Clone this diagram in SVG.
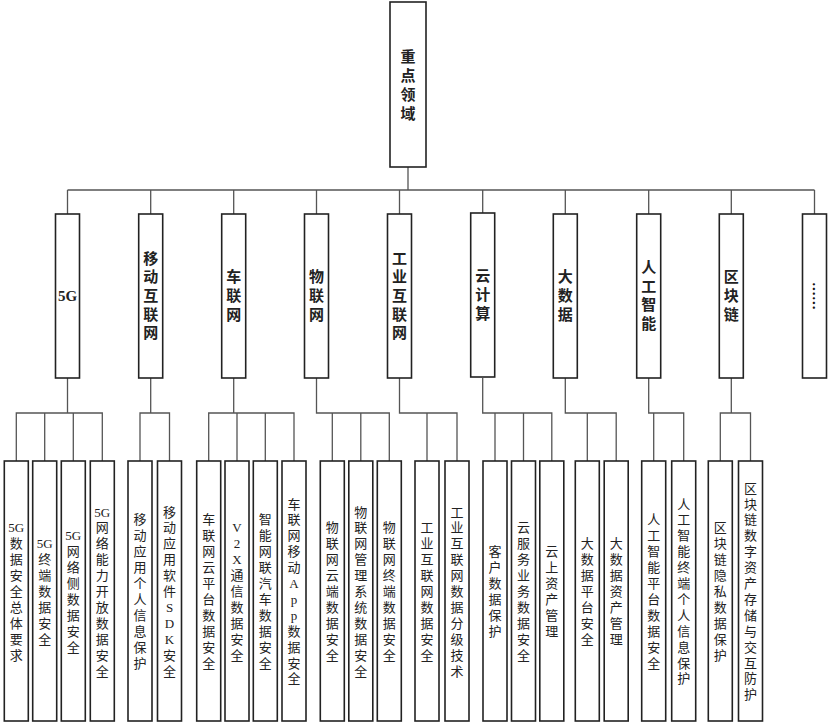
<svg xmlns="http://www.w3.org/2000/svg" width="830" height="726" viewBox="0 0 830 726">
<style>
.box{fill:#fff;stroke:#222;stroke-width:1.6}
.ln{fill:none;stroke:#555;stroke-width:1.3}
text{font-family:"Liberation Serif","Noto Sans CJK SC",serif;text-anchor:middle;dominant-baseline:central;fill:#222}
.t1{font-size:15px;font-weight:bold}
.t2{font-size:15px;font-weight:bold}
.t3{font-size:13px}
.dots{font-family:"Noto Sans CJK SC",sans-serif;font-size:14px;font-weight:bold;fill:#111}
</style>
<rect width="830" height="726" fill="#fff"/>
<g id="connectors">
<path class="ln" d="M408,167V190M67.5,190H814.5M67.5,190V214M150.7,190V214M233.7,190V214M316.5,190V214M399.5,190V214M482.7,190V214M565.3,190V214M648.7,190V214M731.3,190V214M814.5,190V214"/>
<path class="ln" d="M67.5,378V413M16.3,461V413H102.3V461M44.7,413V461M73.3,413V461"/>
<path class="ln" d="M150.7,378V413M140,461V413H169.5V461"/>
<path class="ln" d="M233.7,378V413M208.7,461V413H294V461M237,413V461M265.3,413V461"/>
<path class="ln" d="M316.5,378V413H389.3V461M332.3,413V461M360.8,413V461"/>
<path class="ln" d="M399.5,378V413H457V461M427,413V461"/>
<path class="ln" d="M482.7,378V413H551.8V461M495,413V461M523.5,413V461"/>
<path class="ln" d="M565.3,378V413H616.2V461M587.3,413V461"/>
<path class="ln" d="M648.7,378V413H683.7V461M653.7,413V461"/>
<path class="ln" d="M731.3,378V413M720.3,461V413H750.5V461"/>
</g>
<g id="root"><rect class="box" x="390" y="2" width="36" height="165"/><text class="t1"><tspan x="408" y="56.5">重</tspan><tspan x="408" dy="19">点</tspan><tspan x="408" dy="19">领</tspan><tspan x="408" dy="19">域</tspan></text></g>
<g id="n5g"><rect class="box" x="55.5" y="214" width="24" height="164"/><text class="t2"><tspan x="67.5" y="296">5G</tspan></text></g>
<g id="nmobile"><rect class="box" x="138.7" y="214" width="24" height="164"/><text class="t2"><tspan x="150.7" y="258.6">移</tspan><tspan x="150.7" dy="18.7">动</tspan><tspan x="150.7" dy="18.7">互</tspan><tspan x="150.7" dy="18.7">联</tspan><tspan x="150.7" dy="18.7">网</tspan></text></g>
<g id="nv2x"><rect class="box" x="221.7" y="214" width="24" height="164"/><text class="t2"><tspan x="233.7" y="277.3">车</tspan><tspan x="233.7" dy="18.7">联</tspan><tspan x="233.7" dy="18.7">网</tspan></text></g>
<g id="niot"><rect class="box" x="304.5" y="214" width="24" height="164"/><text class="t2"><tspan x="316.5" y="277.3">物</tspan><tspan x="316.5" dy="18.7">联</tspan><tspan x="316.5" dy="18.7">网</tspan></text></g>
<g id="niiot"><rect class="box" x="387.5" y="214" width="24" height="164"/><text class="t2"><tspan x="399.5" y="258.6">工</tspan><tspan x="399.5" dy="18.7">业</tspan><tspan x="399.5" dy="18.7">互</tspan><tspan x="399.5" dy="18.7">联</tspan><tspan x="399.5" dy="18.7">网</tspan></text></g>
<g id="ncloud"><rect class="box" x="470.7" y="213" width="24" height="164"/><text class="t2"><tspan x="482.7" y="276.3">云</tspan><tspan x="482.7" dy="18.7">计</tspan><tspan x="482.7" dy="18.7">算</tspan></text></g>
<g id="nbigdata"><rect class="box" x="553.3" y="214" width="24" height="164"/><text class="t2"><tspan x="565.3" y="277.3">大</tspan><tspan x="565.3" dy="18.7">数</tspan><tspan x="565.3" dy="18.7">据</tspan></text></g>
<g id="nai"><rect class="box" x="636.7" y="214" width="24" height="164"/><text class="t2"><tspan x="648.7" y="268">人</tspan><tspan x="648.7" dy="18.7">工</tspan><tspan x="648.7" dy="18.7">智</tspan><tspan x="648.7" dy="18.7">能</tspan></text></g>
<g id="nchain"><rect class="box" x="719.3" y="214" width="24" height="164"/><text class="t2"><tspan x="731.3" y="277.3">区</tspan><tspan x="731.3" dy="18.7">块</tspan><tspan x="731.3" dy="18.7">链</tspan></text></g>
<g id="nmore"><rect class="box" x="802.5" y="214" width="24" height="164"/><text class="dots" transform="rotate(90 814.5 296)" x="814.5" y="296">……</text></g>

<g id="c1"><rect class="box" x="4.3" y="461" width="24" height="260"/><text class="t3"><tspan x="16.3" y="527.4">5G</tspan><tspan x="16.3" dy="15.9">数</tspan><tspan x="16.3" dy="15.9">据</tspan><tspan x="16.3" dy="15.9">安</tspan><tspan x="16.3" dy="15.9">全</tspan><tspan x="16.3" dy="15.9">总</tspan><tspan x="16.3" dy="15.9">体</tspan><tspan x="16.3" dy="15.9">要</tspan><tspan x="16.3" dy="15.9">求</tspan></text></g>
<g id="c2"><rect class="box" x="32.7" y="461" width="24" height="260"/><text class="t3"><tspan x="44.7" y="543.3">5G</tspan><tspan x="44.7" dy="15.9">终</tspan><tspan x="44.7" dy="15.9">端</tspan><tspan x="44.7" dy="15.9">数</tspan><tspan x="44.7" dy="15.9">据</tspan><tspan x="44.7" dy="15.9">安</tspan><tspan x="44.7" dy="15.9">全</tspan></text></g>
<g id="c3"><rect class="box" x="61.3" y="461" width="24" height="260"/><text class="t3"><tspan x="73.3" y="535.35">5G</tspan><tspan x="73.3" dy="15.9">网</tspan><tspan x="73.3" dy="15.9">络</tspan><tspan x="73.3" dy="15.9">侧</tspan><tspan x="73.3" dy="15.9">数</tspan><tspan x="73.3" dy="15.9">据</tspan><tspan x="73.3" dy="15.9">安</tspan><tspan x="73.3" dy="15.9">全</tspan></text></g>
<g id="c4"><rect class="box" x="90.3" y="461" width="24" height="260"/><text class="t3"><tspan x="102.3" y="511.5">5G</tspan><tspan x="102.3" dy="15.9">网</tspan><tspan x="102.3" dy="15.9">络</tspan><tspan x="102.3" dy="15.9">能</tspan><tspan x="102.3" dy="15.9">力</tspan><tspan x="102.3" dy="15.9">开</tspan><tspan x="102.3" dy="15.9">放</tspan><tspan x="102.3" dy="15.9">数</tspan><tspan x="102.3" dy="15.9">据</tspan><tspan x="102.3" dy="15.9">安</tspan><tspan x="102.3" dy="15.9">全</tspan></text></g>
<g id="c5"><rect class="box" x="128" y="461" width="24" height="260"/><text class="t3"><tspan x="140" y="519.45">移</tspan><tspan x="140" dy="15.9">动</tspan><tspan x="140" dy="15.9">应</tspan><tspan x="140" dy="15.9">用</tspan><tspan x="140" dy="15.9">个</tspan><tspan x="140" dy="15.9">人</tspan><tspan x="140" dy="15.9">信</tspan><tspan x="140" dy="15.9">息</tspan><tspan x="140" dy="15.9">保</tspan><tspan x="140" dy="15.9">护</tspan></text></g>
<g id="c6"><rect class="box" x="157.5" y="461" width="24" height="260"/><text class="t3"><tspan x="169.5" y="511.5">移</tspan><tspan x="169.5" dy="15.9">动</tspan><tspan x="169.5" dy="15.9">应</tspan><tspan x="169.5" dy="15.9">用</tspan><tspan x="169.5" dy="15.9">软</tspan><tspan x="169.5" dy="15.9">件</tspan><tspan x="169.5" dy="15.9">S</tspan><tspan x="169.5" dy="15.9">D</tspan><tspan x="169.5" dy="15.9">K</tspan><tspan x="169.5" dy="15.9">安</tspan><tspan x="169.5" dy="15.9">全</tspan></text></g>
<g id="c7"><rect class="box" x="196.7" y="461" width="24" height="260"/><text class="t3"><tspan x="208.7" y="519.45">车</tspan><tspan x="208.7" dy="15.9">联</tspan><tspan x="208.7" dy="15.9">网</tspan><tspan x="208.7" dy="15.9">云</tspan><tspan x="208.7" dy="15.9">平</tspan><tspan x="208.7" dy="15.9">台</tspan><tspan x="208.7" dy="15.9">数</tspan><tspan x="208.7" dy="15.9">据</tspan><tspan x="208.7" dy="15.9">安</tspan><tspan x="208.7" dy="15.9">全</tspan></text></g>
<g id="c8"><rect class="box" x="225" y="461" width="24" height="260"/><text class="t3"><tspan x="237" y="527.4">V</tspan><tspan x="237" dy="15.9">2</tspan><tspan x="237" dy="15.9">X</tspan><tspan x="237" dy="15.9">通</tspan><tspan x="237" dy="15.9">信</tspan><tspan x="237" dy="15.9">数</tspan><tspan x="237" dy="15.9">据</tspan><tspan x="237" dy="15.9">安</tspan><tspan x="237" dy="15.9">全</tspan></text></g>
<g id="c9"><rect class="box" x="253.3" y="461" width="24" height="260"/><text class="t3"><tspan x="265.3" y="519.45">智</tspan><tspan x="265.3" dy="15.9">能</tspan><tspan x="265.3" dy="15.9">网</tspan><tspan x="265.3" dy="15.9">联</tspan><tspan x="265.3" dy="15.9">汽</tspan><tspan x="265.3" dy="15.9">车</tspan><tspan x="265.3" dy="15.9">数</tspan><tspan x="265.3" dy="15.9">据</tspan><tspan x="265.3" dy="15.9">安</tspan><tspan x="265.3" dy="15.9">全</tspan></text></g>
<g id="c10"><rect class="box" x="282" y="461" width="24" height="260"/><text class="t3"><tspan x="294" y="503.55">车</tspan><tspan x="294" dy="15.9">联</tspan><tspan x="294" dy="15.9">网</tspan><tspan x="294" dy="15.9">移</tspan><tspan x="294" dy="15.9">动</tspan><tspan x="294" dy="15.9">A</tspan><tspan x="294" dy="15.9">p</tspan><tspan x="294" dy="15.9">p</tspan><tspan x="294" dy="15.9">数</tspan><tspan x="294" dy="15.9">据</tspan><tspan x="294" dy="15.9">安</tspan><tspan x="294" dy="15.9">全</tspan></text></g>
<g id="c11"><rect class="box" x="320.3" y="461" width="24" height="260"/><text class="t3"><tspan x="332.3" y="527.4">物</tspan><tspan x="332.3" dy="15.9">联</tspan><tspan x="332.3" dy="15.9">网</tspan><tspan x="332.3" dy="15.9">云</tspan><tspan x="332.3" dy="15.9">端</tspan><tspan x="332.3" dy="15.9">数</tspan><tspan x="332.3" dy="15.9">据</tspan><tspan x="332.3" dy="15.9">安</tspan><tspan x="332.3" dy="15.9">全</tspan></text></g>
<g id="c12"><rect class="box" x="348.8" y="461" width="24" height="260"/><text class="t3"><tspan x="360.8" y="511.5">物</tspan><tspan x="360.8" dy="15.9">联</tspan><tspan x="360.8" dy="15.9">网</tspan><tspan x="360.8" dy="15.9">管</tspan><tspan x="360.8" dy="15.9">理</tspan><tspan x="360.8" dy="15.9">系</tspan><tspan x="360.8" dy="15.9">统</tspan><tspan x="360.8" dy="15.9">数</tspan><tspan x="360.8" dy="15.9">据</tspan><tspan x="360.8" dy="15.9">安</tspan><tspan x="360.8" dy="15.9">全</tspan></text></g>
<g id="c13"><rect class="box" x="377.3" y="461" width="24" height="260"/><text class="t3"><tspan x="389.3" y="527.4">物</tspan><tspan x="389.3" dy="15.9">联</tspan><tspan x="389.3" dy="15.9">网</tspan><tspan x="389.3" dy="15.9">终</tspan><tspan x="389.3" dy="15.9">端</tspan><tspan x="389.3" dy="15.9">数</tspan><tspan x="389.3" dy="15.9">据</tspan><tspan x="389.3" dy="15.9">安</tspan><tspan x="389.3" dy="15.9">全</tspan></text></g>
<g id="c14"><rect class="box" x="415" y="461" width="24" height="260"/><text class="t3"><tspan x="427" y="527.4">工</tspan><tspan x="427" dy="15.9">业</tspan><tspan x="427" dy="15.9">互</tspan><tspan x="427" dy="15.9">联</tspan><tspan x="427" dy="15.9">网</tspan><tspan x="427" dy="15.9">数</tspan><tspan x="427" dy="15.9">据</tspan><tspan x="427" dy="15.9">安</tspan><tspan x="427" dy="15.9">全</tspan></text></g>
<g id="c15"><rect class="box" x="445" y="461" width="24" height="260"/><text class="t3"><tspan x="457" y="511.5">工</tspan><tspan x="457" dy="15.9">业</tspan><tspan x="457" dy="15.9">互</tspan><tspan x="457" dy="15.9">联</tspan><tspan x="457" dy="15.9">网</tspan><tspan x="457" dy="15.9">数</tspan><tspan x="457" dy="15.9">据</tspan><tspan x="457" dy="15.9">分</tspan><tspan x="457" dy="15.9">级</tspan><tspan x="457" dy="15.9">技</tspan><tspan x="457" dy="15.9">术</tspan></text></g>
<g id="c16"><rect class="box" x="483" y="461" width="24" height="260"/><text class="t3"><tspan x="495" y="551.25">客</tspan><tspan x="495" dy="15.9">户</tspan><tspan x="495" dy="15.9">数</tspan><tspan x="495" dy="15.9">据</tspan><tspan x="495" dy="15.9">保</tspan><tspan x="495" dy="15.9">护</tspan></text></g>
<g id="c17"><rect class="box" x="511.5" y="461" width="24" height="260"/><text class="t3"><tspan x="523.5" y="527.4">云</tspan><tspan x="523.5" dy="15.9">服</tspan><tspan x="523.5" dy="15.9">务</tspan><tspan x="523.5" dy="15.9">业</tspan><tspan x="523.5" dy="15.9">务</tspan><tspan x="523.5" dy="15.9">数</tspan><tspan x="523.5" dy="15.9">据</tspan><tspan x="523.5" dy="15.9">安</tspan><tspan x="523.5" dy="15.9">全</tspan></text></g>
<g id="c18"><rect class="box" x="539.8" y="461" width="24" height="260"/><text class="t3"><tspan x="551.8" y="551.25">云</tspan><tspan x="551.8" dy="15.9">上</tspan><tspan x="551.8" dy="15.9">资</tspan><tspan x="551.8" dy="15.9">产</tspan><tspan x="551.8" dy="15.9">管</tspan><tspan x="551.8" dy="15.9">理</tspan></text></g>
<g id="c19"><rect class="box" x="575.3" y="461" width="24" height="260"/><text class="t3"><tspan x="587.3" y="543.3">大</tspan><tspan x="587.3" dy="15.9">数</tspan><tspan x="587.3" dy="15.9">据</tspan><tspan x="587.3" dy="15.9">平</tspan><tspan x="587.3" dy="15.9">台</tspan><tspan x="587.3" dy="15.9">安</tspan><tspan x="587.3" dy="15.9">全</tspan></text></g>
<g id="c20"><rect class="box" x="604.2" y="461" width="24" height="260"/><text class="t3"><tspan x="616.2" y="543.3">大</tspan><tspan x="616.2" dy="15.9">数</tspan><tspan x="616.2" dy="15.9">据</tspan><tspan x="616.2" dy="15.9">资</tspan><tspan x="616.2" dy="15.9">产</tspan><tspan x="616.2" dy="15.9">管</tspan><tspan x="616.2" dy="15.9">理</tspan></text></g>
<g id="c21"><rect class="box" x="641.7" y="461" width="24" height="260"/><text class="t3"><tspan x="653.7" y="519.45">人</tspan><tspan x="653.7" dy="15.9">工</tspan><tspan x="653.7" dy="15.9">智</tspan><tspan x="653.7" dy="15.9">能</tspan><tspan x="653.7" dy="15.9">平</tspan><tspan x="653.7" dy="15.9">台</tspan><tspan x="653.7" dy="15.9">数</tspan><tspan x="653.7" dy="15.9">据</tspan><tspan x="653.7" dy="15.9">安</tspan><tspan x="653.7" dy="15.9">全</tspan></text></g>
<g id="c22"><rect class="box" x="671.7" y="461" width="24" height="260"/><text class="t3"><tspan x="683.7" y="503.55">人</tspan><tspan x="683.7" dy="15.9">工</tspan><tspan x="683.7" dy="15.9">智</tspan><tspan x="683.7" dy="15.9">能</tspan><tspan x="683.7" dy="15.9">终</tspan><tspan x="683.7" dy="15.9">端</tspan><tspan x="683.7" dy="15.9">个</tspan><tspan x="683.7" dy="15.9">人</tspan><tspan x="683.7" dy="15.9">信</tspan><tspan x="683.7" dy="15.9">息</tspan><tspan x="683.7" dy="15.9">保</tspan><tspan x="683.7" dy="15.9">护</tspan></text></g>
<g id="c23"><rect class="box" x="708.3" y="461" width="24" height="260"/><text class="t3"><tspan x="720.3" y="527.4">区</tspan><tspan x="720.3" dy="15.9">块</tspan><tspan x="720.3" dy="15.9">链</tspan><tspan x="720.3" dy="15.9">隐</tspan><tspan x="720.3" dy="15.9">私</tspan><tspan x="720.3" dy="15.9">数</tspan><tspan x="720.3" dy="15.9">据</tspan><tspan x="720.3" dy="15.9">保</tspan><tspan x="720.3" dy="15.9">护</tspan></text></g>
<g id="c24"><rect class="box" x="738.5" y="461" width="24" height="260"/><text class="t3"><tspan x="750.5" y="487.65">区</tspan><tspan x="750.5" dy="15.9">块</tspan><tspan x="750.5" dy="15.9">链</tspan><tspan x="750.5" dy="15.9">数</tspan><tspan x="750.5" dy="15.9">字</tspan><tspan x="750.5" dy="15.9">资</tspan><tspan x="750.5" dy="15.9">产</tspan><tspan x="750.5" dy="15.9">存</tspan><tspan x="750.5" dy="15.9">储</tspan><tspan x="750.5" dy="15.9">与</tspan><tspan x="750.5" dy="15.9">交</tspan><tspan x="750.5" dy="15.9">互</tspan><tspan x="750.5" dy="15.9">防</tspan><tspan x="750.5" dy="15.9">护</tspan></text></g>
</svg>
